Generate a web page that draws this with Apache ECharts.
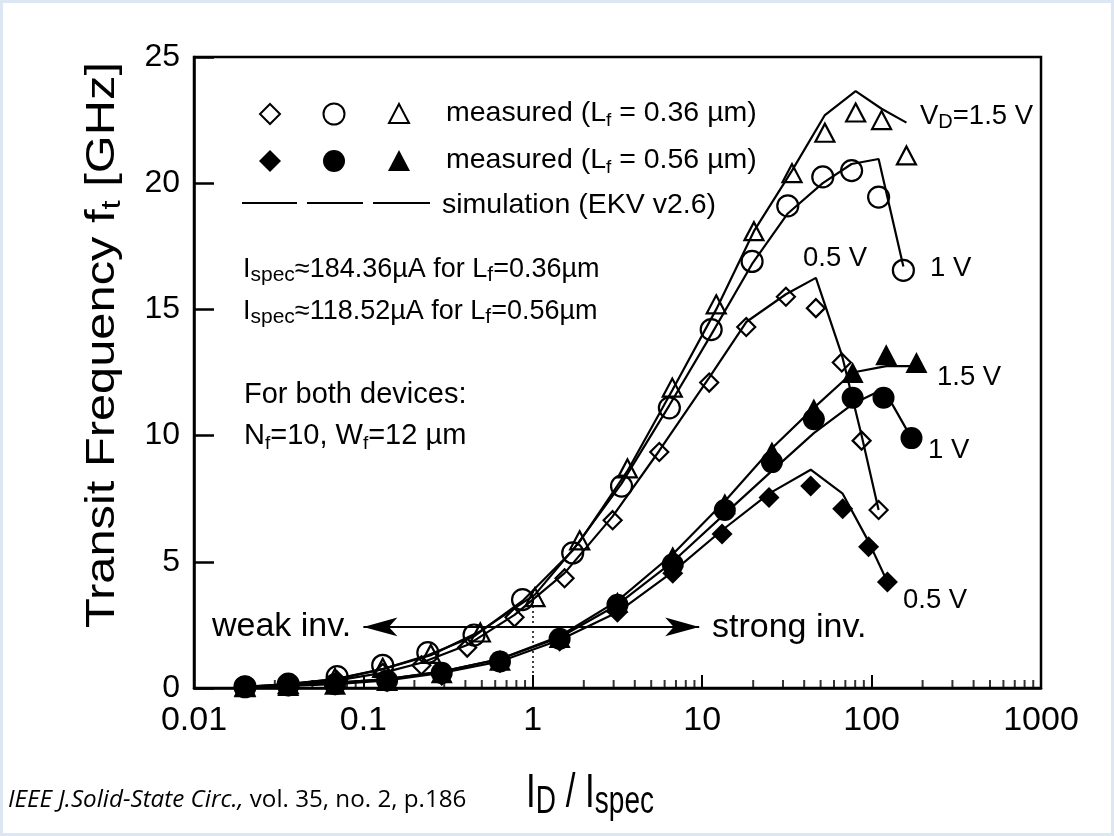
<!DOCTYPE html>
<html><head><meta charset="utf-8">
<script src="https://cdn.jsdelivr.net/npm/echarts@6/dist/echarts.min.js"></script>
<style>html,body{margin:0;padding:0;background:#fff}#c{width:1114px;height:836px}</style>
</head><body><div id="c"></div><script>
// ---- Lf = 0.36 um (open markers) ----
const xOpen15 = [0.02, 0.036, 0.068, 0.13, 0.25, 0.49, 1.03, 1.89, 3.62, 6.66, 12.1, 20.2, 33.9, 53, 80.5, 114.5, 160.6];
const yOpen15 = [0.05, 0.15, 0.4, 0.8, 1.35, 2.2, 3.6, 5.85, 8.7, 11.9, 15.2, 18.1, 20.4, 22.0, 22.8, 22.5, 21.1];
const simOpen15 = [0.05, 0.15, 0.35, 0.75, 1.3, 2.25, 3.7, 5.8, 8.6, 11.8, 15.0, 18.1, 20.5, 22.7, 23.65, 22.95, 22.4];

const xOpen10 = [0.02, 0.036, 0.07, 0.13, 0.24, 0.45, 0.87, 1.72, 3.34, 6.4, 11.3, 19.7, 32, 51.5, 76.2, 110, 154];
const yOpen10 = [0.05, 0.15, 0.45, 0.9, 1.4, 2.1, 3.5, 5.35, 8.0, 11.1, 14.2, 16.9, 19.1, 20.25, 20.5, 19.45, 16.55];
const simOpen10 = [0.05, 0.15, 0.35, 0.75, 1.3, 2.05, 3.45, 5.45, 8.1, 11.2, 14.0, 16.8, 18.8, 20.0, 20.76, 20.96, 16.7];

const xOpen05 = [0.02, 0.036, 0.07, 0.13, 0.22, 0.41, 0.78, 1.54, 2.96, 5.58, 11, 18.2, 31.2, 46.9, 66.7, 87.3, 110];
const yOpen05 = [0.03, 0.1, 0.3, 0.6, 0.9, 1.6, 2.8, 4.35, 6.65, 9.35, 12.1, 14.3, 15.5, 15.05, 12.9, 9.8, 7.05];
const simOpen05 = [0.03, 0.1, 0.3, 0.6, 1.0, 1.7, 2.9, 4.55, 6.8, 9.4, 12.3, 14.5, 15.6, 16.25, 13.2, 10.0, 7.05];

// ---- Lf = 0.56 um (filled markers) ----
const xFill15 = [0.02, 0.036, 0.068, 0.138, 0.29, 0.64, 1.44, 3.16, 6.7, 13.6, 25.8, 45.6, 77.3, 122, 184];
const yFill15 = [0.05, 0.1, 0.15, 0.3, 0.6, 1.1, 2.0, 3.4, 5.2, 7.3, 9.35, 11.05, 12.5, 13.2, 12.9];
const simFill15 = [0.05, 0.1, 0.2, 0.35, 0.65, 1.15, 2.05, 3.45, 5.3, 7.4, 9.5, 11.1, 12.5, 12.75, 12.75];

const xFill10 = [0.02, 0.036, 0.068, 0.138, 0.29, 0.64, 1.44, 3.16, 6.7, 13.6, 25.8, 45.6, 77.3, 117.6, 172];
const yFill10 = [0.05, 0.1, 0.15, 0.3, 0.6, 1.05, 1.95, 3.3, 4.9, 7.05, 8.95, 10.65, 11.5, 11.5, 9.9];
const simFill10 = [0.05, 0.1, 0.2, 0.35, 0.65, 1.15, 2.0, 3.3, 5.0, 6.9, 8.6, 10.1, 11.25, 11.85, 9.9];

const xFill05 = [0.02, 0.036, 0.068, 0.138, 0.29, 0.64, 1.44, 3.16, 6.7, 13.1, 24.8, 43.7, 67.5, 96, 124];
const yFill05 = [0.03, 0.08, 0.12, 0.25, 0.5, 1.0, 1.85, 3.0, 4.55, 6.1, 7.55, 8.0, 7.1, 5.6, 4.2];
const simFill05 = [0.03, 0.08, 0.15, 0.3, 0.6, 1.05, 1.9, 3.0, 4.6, 6.25, 7.7, 8.65, 7.7, 5.8, 4.2];

// ---- axes ----
const xTickLabels = ['0.01', '0.1', '1', '10', '100', '1000'];
const yTicks = [0, 5, 10, 15, 20, 25];
const minorMultipliers = [2, 3, 4, 5, 6, 7, 8, 9];
const decades = [0.01, 0.1, 1, 10, 100];
const arrowY = 2.42;
const arrowFrom = 0.1, arrowTo = 9.6;
const dividerX = 1, dividerTop = 3.8;

const F = 'Liberation Sans, Arial, Helvetica, sans-serif';
const pts = (xs, ys) => xs.map((x, i) => [x, ys[i]]);
const minorTicks = [];
decades.forEach(d => minorMultipliers.forEach(m => minorTicks.push([+(d * m).toPrecision(3), 0])));

function rich(fs, sub) {
  return {
    n: {fontSize: fs, fontFamily: F, fill: '#000', color: '#000', lineHeight: Math.round(fs * 1.18)},
    s: {fontSize: sub, fontFamily: F, fill: '#000', color: '#000', lineHeight: sub, verticalAlign: 'bottom'}
  };
}
function txt(x, y, text, fs, sub, extra, align) {
  return Object.assign({
    type: 'text', x: x, y: y, silent: true, z: 50,
    style: {text: text, align: align || 'left', verticalAlign: 'middle', rich: rich(fs, sub || Math.round(fs * 0.68))}
  }, extra || {});
}

const simSeries = [simOpen15, simOpen10, simOpen05, simFill15, simFill10, simFill05];
const simX = [xOpen15, xOpen10, xOpen05, xFill15, xFill10, xFill05];
const measY = [yOpen15, yOpen10, yOpen05, yFill15, yFill10, yFill05];
const symbols = ['triangle', 'circle', 'diamond', 'triangle', 'circle', 'diamond'];
const sizes = [[19, 18], 21, [18, 18], [22, 21], 22, [21, 21]];

const series = [];
simSeries.forEach((s, i) => series.push({
  type: 'line', data: pts(simX[i], s), showSymbol: false, symbol: 'none', silent: true, z: 3,
  lineStyle: {color: '#000', width: 2.2}
}));
measY.forEach((ys, i) => {
  const filled = i >= 3;
  series.push({
    type: 'scatter', data: pts(simX[i], ys), symbol: symbols[i], symbolSize: sizes[i], silent: true, z: 4, clip: false,
    itemStyle: {color: filled ? '#000' : 'rgba(0,0,0,0)', borderColor: '#000', borderWidth: filled ? 0 : 2.2, opacity: 1}
  });
});
series.push({
  type: 'scatter', data: minorTicks, symbol: 'rect', symbolSize: [2, 8], symbolOffset: [0, -4], silent: true, clip: false, z: 2,
  itemStyle: {color: '#000'},
  markLine: {
    silent: true, symbol: ['arrow', 'arrow'], symbolSize: [14, 34], animation: false,
    lineStyle: {color: '#000', width: 2.2, type: 'solid'}, label: {show: false},
    data: [[{coord: [arrowFrom, arrowY]}, {coord: [arrowTo, arrowY]}]]
  }
});
series.push({
  type: 'line', data: [], silent: true,
  markLine: {
    silent: true, symbol: ['none', 'none'], animation: false,
    lineStyle: {color: '#000', width: 1.5, type: [2, 3]}, label: {show: false},
    data: [[{coord: [dividerX, 0]}, {coord: [dividerX, dividerTop]}]]
  }
});

// legend + annotations (graphic)
const LX = [270, 334, 399];
const graphic = [
  {type: 'rect', shape: {x: 0, y: 0, width: 1114, height: 836}, style: {fill: 'none', stroke: '#dde7f3', lineWidth: 6}, silent: true, z: 60},
  {type: 'polygon', shape: {points: [[LX[0], 104], [LX[0] + 10, 114], [LX[0], 124], [LX[0] - 10, 114]]}, style: {fill: 'none', stroke: '#000', lineWidth: 2}},
  {type: 'circle', shape: {cx: LX[1], cy: 114, r: 10.5}, style: {fill: 'none', stroke: '#000', lineWidth: 2}},
  {type: 'polygon', shape: {points: [[LX[2], 104], [LX[2] + 10, 123], [LX[2] - 10, 123]]}, style: {fill: 'none', stroke: '#000', lineWidth: 2}},
  {type: 'polygon', shape: {points: [[LX[0], 150], [LX[0] + 11, 161], [LX[0], 172], [LX[0] - 11, 161]]}, style: {fill: '#000'}},
  {type: 'circle', shape: {cx: LX[1], cy: 161, r: 11}, style: {fill: '#000'}},
  {type: 'polygon', shape: {points: [[LX[2], 150], [LX[2] + 11, 171], [LX[2] - 11, 171]]}, style: {fill: '#000'}},
  {type: 'line', shape: {x1: 242, y1: 203, x2: 297, y2: 203}, style: {stroke: '#000', lineWidth: 2.2}},
  {type: 'line', shape: {x1: 307, y1: 203, x2: 363, y2: 203}, style: {stroke: '#000', lineWidth: 2.2}},
  {type: 'line', shape: {x1: 373, y1: 203, x2: 430, y2: 203}, style: {stroke: '#000', lineWidth: 2.2}},
  txt(446, 113, '{n|measured (L}{s|f}{n| = 0.36 \u00b5m)}', 28.5, 19),
  txt(446, 160, '{n|measured (L}{s|f}{n| = 0.56 \u00b5m)}', 28.5, 19),
  txt(442, 205, '{n|simulation (EKV v2.6)}', 28.5),
  txt(243, 270, '{n|I}{s|spec}{n|\u2248184.36\u00b5A for L}{s|f}{n|=0.36\u00b5m}', 27, 21),
  txt(243, 312, '{n|I}{s|spec}{n|\u2248118.52\u00b5A for L}{s|f}{n|=0.56\u00b5m}', 27, 21),
  txt(244, 395, '{n|For both devices:}', 29),
  txt(244, 436, '{n|N}{s|f}{n|=10, W}{s|f}{n|=12 \u00b5m}', 29, 19),
  txt(920, 116, '{n|V}{s|D}{n|=1.5 V}', 27.5, 20),
  txt(930, 268, '{n|1 V}', 27.5),
  txt(803, 258, '{n|0.5 V}', 27.5),
  txt(937, 377, '{n|1.5 V}', 27.5),
  txt(928, 450, '{n|1 V}', 27.5),
  txt(903, 600, '{n|0.5 V}', 27.5),
  txt(212, 627, '{n|weak inv.}', 34),
  txt(712, 628, '{n|strong inv.}', 34),
  txt(103, 345, '{n|Transit Frequency f}{s|t}{n| [GHz]}', 40, 27, {rotation: Math.PI / 2, scaleX: 1.22}, 'center'),
  txt(590, 793, '{n|I}{s|D}{n| / I}{s|spec}', 35, 28, {scaleY: 1.4}, 'center'),
  {type: 'text', x: 8, y: 800, silent: true, style: {
    text: '{i|IEEE J.Solid-State Circ.,}{r| vol. 35, no. 2, p.186}', align: 'left', verticalAlign: 'middle',
    rich: {
      i: {fontSize: 24.2, fontFamily: 'Open Sans, sans-serif', fontStyle: 'italic', fill: '#000', color: '#000'},
      r: {fontSize: 24.2, fontFamily: 'Open Sans, sans-serif', fill: '#000', color: '#000'}
    }
  }}
];

const chart = echarts.init(document.getElementById('c'), null, {renderer: 'canvas'});
chart.setOption({
  animation: false,
  backgroundColor: '#fff',
  grid: {left: 194, right: 73, top: 57, bottom: 148, show: true, borderColor: '#000', borderWidth: 2.5},
  xAxis: {
    type: 'log', logBase: 10, min: 0.01, max: 1000,
    axisLine: {show: true, lineStyle: {color: '#000', width: 2.5}},
    axisTick: {show: true, inside: true, length: 13, lineStyle: {color: '#000', width: 2}},
    minorTick: {show: false},
    splitLine: {show: false},
    axisLabel: {
      fontSize: 34, fontFamily: F, color: '#000', margin: 16,
      formatter: v => xTickLabels[Math.round(Math.log10(v)) + 2]
    }
  },
  yAxis: {
    type: 'value', min: yTicks[0], max: yTicks[yTicks.length - 1], interval: 5,
    axisLine: {show: true, lineStyle: {color: '#000', width: 2.5}},
    axisTick: {show: true, inside: true, length: 20, lineStyle: {color: '#000', width: 2.5}},
    splitLine: {show: false},
    axisLabel: {fontSize: 32, fontFamily: F, color: '#000', margin: 14}
  },
  graphic: graphic,
  series: series
});
</script></body></html>
